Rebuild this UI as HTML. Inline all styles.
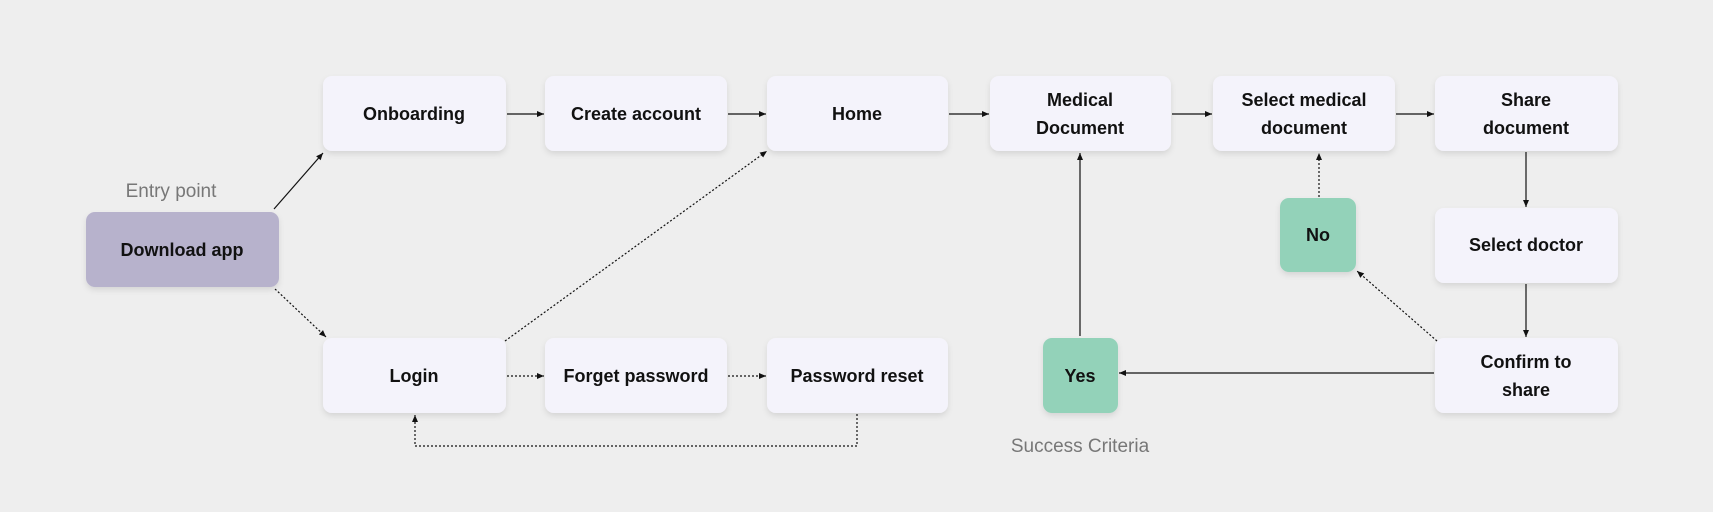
<!DOCTYPE html>
<html><head><meta charset="utf-8"><style>
html,body{margin:0;padding:0;background:#eeeeee;}
svg{display:block}
text{font-family:"Liberation Sans",sans-serif;font-size:18px;fill:#111;text-anchor:middle;font-weight:600}
.lbl{fill:#777;font-weight:400;font-size:19px}
</style></head><body>
<svg width="1713" height="512" viewBox="0 0 1713 512" xmlns="http://www.w3.org/2000/svg">
<defs>
<marker id="a" markerWidth="8" markerHeight="8" refX="7" refY="4" orient="auto" markerUnits="userSpaceOnUse"><path d="M0,1 L7,4 L0,7z" fill="#111"/></marker>
<filter id="sh" x="-20%" y="-20%" width="140%" height="150%"><feDropShadow dx="0" dy="3" stdDeviation="3" flood-color="#000" flood-opacity="0.10"/></filter>
</defs>
<rect width="1713" height="512" fill="#eeeeee"/>
<g filter="url(#sh)">
<rect x="323" y="76" width="183" height="75" rx="9" fill="#f4f3fb"/>
<rect x="545" y="76" width="182" height="75" rx="9" fill="#f4f3fb"/>
<rect x="767" y="76" width="181" height="75" rx="9" fill="#f4f3fb"/>
<rect x="990" y="76" width="181" height="75" rx="9" fill="#f4f3fb"/>
<rect x="1213" y="76" width="182" height="75" rx="9" fill="#f4f3fb"/>
<rect x="1435" y="76" width="183" height="75" rx="9" fill="#f4f3fb"/>
<rect x="1435" y="208" width="183" height="75" rx="9" fill="#f4f3fb"/>
<rect x="1435" y="338" width="183" height="75" rx="9" fill="#f4f3fb"/>
<rect x="323" y="338" width="183" height="75" rx="9" fill="#f4f3fb"/>
<rect x="545" y="338" width="182" height="75" rx="9" fill="#f4f3fb"/>
<rect x="767" y="338" width="181" height="75" rx="9" fill="#f4f3fb"/>
<rect x="86" y="212" width="193" height="75" rx="9" fill="#b7b2cc"/>
<rect x="1280" y="198" width="76" height="74" rx="9" fill="#93d2b9"/>
<rect x="1043" y="338" width="75" height="75" rx="9" fill="#93d2b9"/>
</g>
<text x="414" y="120">Onboarding</text>
<text x="636" y="120">Create account</text>
<text x="857" y="120">Home</text>
<text x="1080" y="106">Medical</text><text x="1080" y="134">Document</text>
<text x="1304" y="106">Select medical</text><text x="1304" y="134">document</text>
<text x="1526" y="106">Share</text><text x="1526" y="134">document</text>
<text x="1526" y="251">Select doctor</text>
<text x="1526" y="368">Confirm to</text><text x="1526" y="396">share</text>
<text x="414" y="382">Login</text>
<text x="636" y="382">Forget password</text>
<text x="857" y="382">Password reset</text>
<text x="182" y="256">Download app</text>
<text x="1318" y="241">No</text>
<text x="1080" y="382">Yes</text>
<text class="lbl" x="171" y="197">Entry point</text>
<text class="lbl" x="1080" y="452">Success Criteria</text>
<g stroke="#111" stroke-width="1.2" fill="none">
<line x1="274" y1="209" x2="323" y2="153" marker-end="url(#a)"/>
<line x1="507" y1="114" x2="544" y2="114" marker-end="url(#a)"/>
<line x1="728" y1="114" x2="766" y2="114" marker-end="url(#a)"/>
<line x1="949" y1="114" x2="989" y2="114" marker-end="url(#a)"/>
<line x1="1172" y1="114" x2="1212" y2="114" marker-end="url(#a)"/>
<line x1="1396" y1="114" x2="1434" y2="114" marker-end="url(#a)"/>
<line x1="1526" y1="152" x2="1526" y2="207" marker-end="url(#a)"/>
<line x1="1526" y1="284" x2="1526" y2="337" marker-end="url(#a)"/>
<line x1="1434" y1="373" x2="1119" y2="373" marker-end="url(#a)"/>
<line x1="1080" y1="336" x2="1080" y2="153" marker-end="url(#a)"/>
<g stroke-dasharray="2,2">
<line x1="275" y1="289" x2="326" y2="337" marker-end="url(#a)"/>
<line x1="505" y1="341" x2="767" y2="151" marker-end="url(#a)"/>
<line x1="507" y1="376" x2="544" y2="376" marker-end="url(#a)"/>
<line x1="728" y1="376" x2="766" y2="376" marker-end="url(#a)"/>
<polyline points="857,414 857,446 415,446 415,415" marker-end="url(#a)"/>
<line x1="1437" y1="341" x2="1357" y2="271" marker-end="url(#a)"/>
<line x1="1319" y1="197" x2="1319" y2="153" marker-end="url(#a)"/>
</g>
</g>
</svg>
</body></html>
